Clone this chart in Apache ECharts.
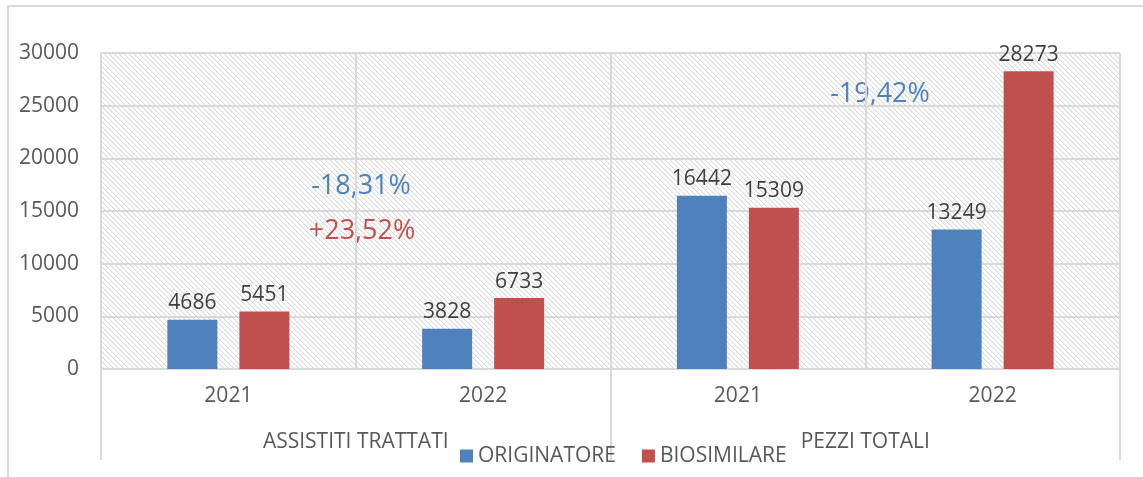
<!DOCTYPE html>
<html>
<head>
<meta charset="utf-8">
<script src="https://cdn.jsdelivr.net/npm/echarts@6/dist/echarts.min.js"></script>
<style>
html,body{margin:0;padding:0;background:#fff;}
#c{width:1143px;height:477px;}
</style>
</head>
<body>
<div id="c"></div>
<script>
const categories = ['2021', '2022', '2021', '2022'];
const groups = ['ASSISTITI TRATTATI', 'PEZZI TOTALI'];
const originatore = [4686, 3828, 16442, 13249];
const biosimilare = [5451, 6733, 15309, 28273];
const seriesNames = ['ORIGINATORE', 'BIOSIMILARE'];
const notes = ['-18,31%', '+23,52%', '-19,42%'];

const FONT = '"Open Sans", sans-serif';
const BLUE = '#4f81bd', RED = '#c0504d';

// hatch pattern
const pc = document.createElement('canvas');
pc.width = 5; pc.height = 5;
const pctx = pc.getContext('2d');
pctx.fillStyle = '#ffffff';
pctx.fillRect(0, 0, 5, 5);
for (let i = 0; i < 5; i++) {
  pctx.fillStyle = '#dadada';
  pctx.fillRect(i, i, 1, 1);
  pctx.fillStyle = '#f1f1f1';
  pctx.fillRect((i + 1) % 5, i, 1, 1);
}

const chart = echarts.init(document.getElementById('c'), null, {renderer: 'canvas'});
const labelStyle = {show: true, position: 'top', distance: 6, color: '#404040', fontSize: 21, fontFamily: FONT};

chart.setOption({
  animation: false,
  grid: {
    left: 101, right: 23, top: 53, bottom: 108,
    show: true, borderWidth: 0,
    backgroundColor: {image: pc, repeat: 'repeat'}
  },
  legend: {
    data: seriesNames,
    left: 455, top: 439,
    itemWidth: 13, itemHeight: 13, itemGap: 26,
    icon: 'rect',
    textStyle: {color: '#595959', fontSize: 21, fontFamily: FONT, lineHeight: 24}
  },
  xAxis: [
    {
      type: 'category', data: categories, position: 'bottom',
      axisLine: {show: true, lineStyle: {color: '#d9d9d9', width: 2}},
      axisTick: {show: false},
      axisLabel: {color: '#595959', fontSize: 21, fontFamily: FONT, margin: 17},
      splitLine: {show: true, lineStyle: {color: '#d9d9d9', width: 2}}
    },
    {
      type: 'category', data: groups, position: 'bottom',
      axisLine: {show: false},
      axisTick: {show: true, length: 91, lineStyle: {color: '#d9d9d9', width: 2}},
      axisLabel: {color: '#595959', fontSize: 21, fontFamily: FONT, margin: 63},
      splitLine: {show: false}
    }
  ],
  yAxis: {
    type: 'value', min: 0, max: 30000, interval: 5000,
    axisLine: {show: false}, axisTick: {show: false},
    axisLabel: {color: '#595959', fontSize: 21, fontFamily: FONT, margin: 22,
                formatter: function (v) { return String(v); }},
    splitLine: {lineStyle: {color: '#d9d9d9', width: 2}}
  },
  series: [
    {name: seriesNames[0], type: 'bar', data: originatore, barWidth: 50, barGap: '44%',
     itemStyle: {color: BLUE}, label: labelStyle},
    {name: seriesNames[1], type: 'bar', data: biosimilare, barWidth: 50, barGap: '44%',
     itemStyle: {color: RED}, label: labelStyle}
  ],
  graphic: [
    {type: 'rect', z: -10, shape: {x: 8, y: 6, width: 1300, height: 600},
     style: {fill: 'none', stroke: '#d9d9d9', lineWidth: 2}},
    {type: 'text', x: 361, y: 186, style: {text: notes[0], fill: BLUE, fontSize: 27, fontFamily: FONT, align: 'center', verticalAlign: 'middle'}},
    {type: 'text', x: 362, y: 231, style: {text: notes[1], fill: RED, fontSize: 27, fontFamily: FONT, align: 'center', verticalAlign: 'middle'}},
    {type: 'text', x: 880, y: 94, style: {text: notes[2], fill: BLUE, fontSize: 27, fontFamily: FONT, align: 'center', verticalAlign: 'middle'}}
  ]
});
</script>
</body>
</html>
